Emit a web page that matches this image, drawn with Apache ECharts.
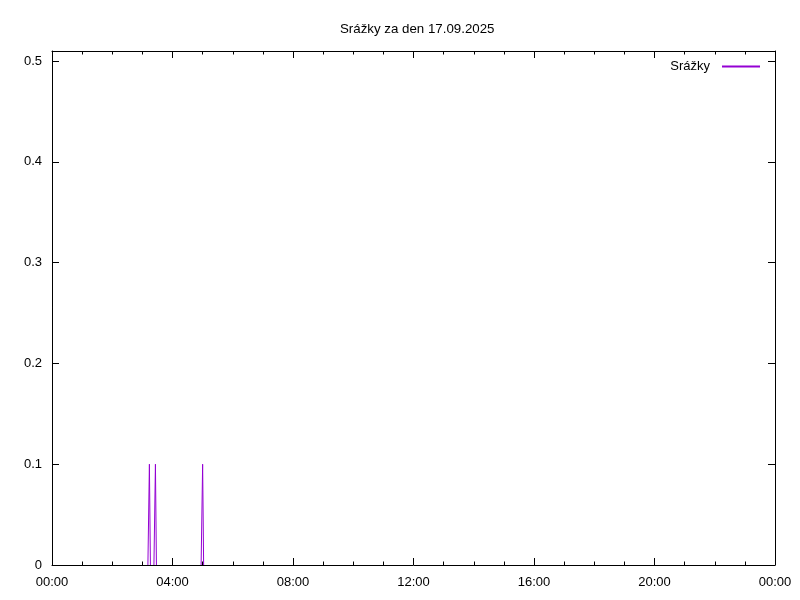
<!DOCTYPE html>
<html><head><meta charset="utf-8">
<script src="https://cdn.jsdelivr.net/npm/echarts@6/dist/echarts.min.js"></script>
<style>html,body{margin:0;padding:0;background:#fff}#c{width:800px;height:600px}</style>
</head><body><div id="c"></div>
<script>
const title = 'Srážky za den 17.09.2025';
const seriesName = 'Srážky';
// null = break in the recorded series
const times = ['03:11','03:14','03:16',null,'03:23','03:26','03:28',null,'04:57','05:00','05:02'];
const values = [0, 0.1, 0, null, 0, 0.1, 0, null, 0, 0.1, 0];
const yTicks = [0, 0.1, 0.2, 0.3, 0.4, 0.5];
const xTickLabels = ['00:00','04:00','08:00','12:00','16:00','20:00','00:00'];

const toH = s => { const [h, m] = s.split(':').map(Number); return h + m / 60; };
const data = times.map((t, i) => t === null ? [null, null] : [toH(t), values[i]]);
const font = 'Liberation Sans, Arial, sans-serif';
const fs = 13;
const purple = '#9400D3';

const chart = echarts.init(document.getElementById('c'));
const axisCommon = {
  axisLine: { show: true, onZero: false, lineStyle: { color: '#000', width: 1 } },
  splitLine: { show: false }
};
chart.setOption({
  animation: false,
  color: [purple],
  title: { text: title, left: 335, top: 18, textStyle: { fontFamily: font, fontSize: 13.3, fontWeight: 'normal', color: '#000' } },
  legend: {
    right: 35, top: 55, align: 'right', icon: 'rect', itemWidth: 38, itemHeight: 2,
    itemStyle: { color: purple, borderWidth: 0 },
    lineStyle: { color: purple },
    textStyle: { fontFamily: font, fontSize: fs, color: '#000', padding: [0, 7, 0, 0] },
    data: [seriesName]
  },
  grid: { left: 52, right: 25, top: 51, bottom: 35 },
  xAxis: [
    Object.assign({}, axisCommon, {
      type: 'value', min: 0, max: 24, interval: 4, position: 'bottom',
      axisTick: { show: true, inside: true, length: 7, lineStyle: { color: '#000' } },
      minorTick: { show: true, splitNumber: 4, length: 3.5, lineStyle: { color: '#000' } },
      axisLabel: { margin: 11, fontFamily: font, fontSize: fs, color: '#000', formatter: v => xTickLabels[Math.round(v / 4)] }
    }),
    Object.assign({}, axisCommon, {
      type: 'value', min: 0, max: 24, interval: 4, position: 'top',
      axisTick: { show: true, inside: true, length: 7, lineStyle: { color: '#000' } },
      minorTick: { show: true, splitNumber: 4, length: 3.5, lineStyle: { color: '#000' } },
      axisLabel: { show: false }
    })
  ],
  yAxis: [
    Object.assign({}, axisCommon, {
      type: 'value', min: 0, max: 0.51, interval: 0.1, position: 'left',
      axisTick: { show: true, inside: true, length: 7, lineStyle: { color: '#000' } },
      axisLabel: { margin: 10, fontFamily: font, fontSize: fs, color: '#000', showMaxLabel: false,
        formatter: v => { const t = yTicks.find(y => Math.abs(y - v) < 1e-6); return t === undefined ? '' : String(t); } }
    }),
    Object.assign({}, axisCommon, {
      type: 'value', min: 0, max: 0.51, interval: 0.1, position: 'right',
      axisTick: { show: true, inside: true, length: 7, lineStyle: { color: '#000' } },
      axisLabel: { show: false }
    })
  ],
  series: [{
    name: seriesName, type: 'line', data: data, showSymbol: false, symbol: 'none', connectNulls: false, z: -1,
    color: purple, lineStyle: { color: purple, width: 1 }, itemStyle: { color: purple }
  }]
});
</script></body></html>
